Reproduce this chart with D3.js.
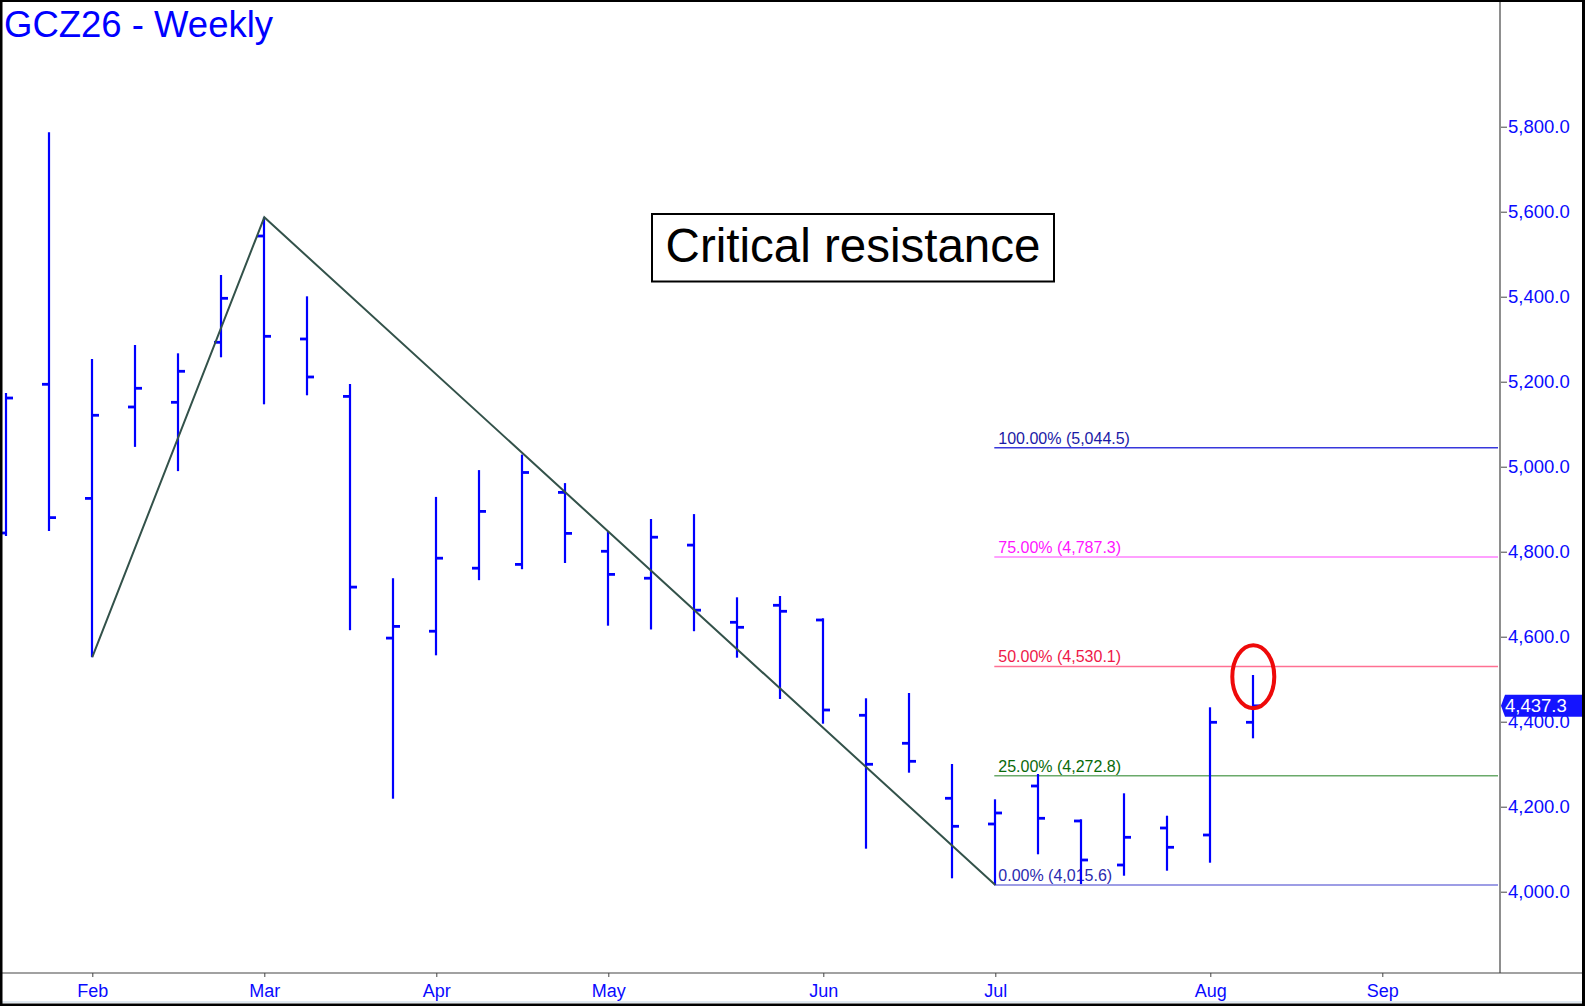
<!DOCTYPE html>
<html>
<head>
<meta charset="utf-8">
<script src="https://cdn.jsdelivr.net/npm/d3@7/dist/d3.min.js"></script>
<style>
  body { margin: 0; background: #fff; }
  svg { display: block; font-family: "Liberation Sans", Arial, sans-serif; }
</style>
</head>
<body>
<div class="chart"></div>
<script>
//weekly bars (week ending friday)
var weekDates = ["2026-01-23","2026-01-30","2026-02-06","2026-02-13","2026-02-20","2026-02-27",
                 "2026-03-06","2026-03-13","2026-03-20","2026-03-27","2026-04-03","2026-04-10",
                 "2026-04-17","2026-04-24","2026-05-01","2026-05-08","2026-05-15","2026-05-22",
                 "2026-05-29","2026-06-05","2026-06-12","2026-06-19","2026-06-26","2026-07-03",
                 "2026-07-10","2026-07-17","2026-07-24","2026-07-31","2026-08-07","2026-08-14"];
var opens  = [4844.0, 5193.9, 4925.4, 5140.5, 5151.5, 5292.7, 5542.8, 5300.5, 5165.4, 4596.7,
              4612.9, 4761.2, 4770.1, 4939.5, 4801.0, 4737.6, 4815.5, 4633.9, 4673.9, 4639.3,
              4415.1, 4349.2, 4219.8, 4159.3, 4248.7, 4166.4, 4062.8, 4149.9, 4133.4, 4398.6];
var highs  = [5173.4, 5786.8, 5253.4, 5286.4, 5266.8, 5451.0, 5586.8, 5400.9, 5194.6, 4737.6,
              4928.9, 4992.0, 5028.5, 4961.4, 4848.0, 4877.0, 4888.5, 4692.7, 4695.8, 4643.3,
              4455.1, 4467.5, 4300.5, 4217.4, 4276.9, 4170.4, 4231.5, 4178.8, 4433.9, 4509.9];
var lows   = [4837.0, 4848.7, 4551.8, 5046.6, 4989.6, 5257.4, 5146.8, 5168.0, 4615.3, 4218.8,
              4556.2, 4733.0, 4758.8, 4773.4, 4625.9, 4617.0, 4612.9, 4550.6, 4453.4, 4395.3,
              4101.2, 4280.0, 4031.5, 4015.6, 4088.0, 4018.0, 4037.6, 4049.4, 4068.2, 4360.9];
var closes = [5161.6, 4880.2, 5121.0, 5184.5, 5224.5, 5396.2, 5306.8, 5211.1, 4716.7, 4624.2,
              4784.7, 4894.8, 4986.4, 4843.1, 4746.6, 4834.1, 4662.4, 4622.1, 4659.8, 4427.5,
              4299.8, 4306.8, 4153.9, 4185.2, 4172.7, 4074.6, 4128.0, 4104.5, 4398.6, 4437.3];

//axis ticks
var priceTicks = [4000, 4200, 4400, 4600, 4800, 5000, 5200, 5400, 5600, 5800];
var monthTickDates = ["2026-02-06","2026-03-06","2026-04-03","2026-05-01",
                      "2026-06-05","2026-07-03","2026-08-07","2026-09-04"];
var monthLabels = ["Feb","Mar","Apr","May","Jun","Jul","Aug","Sep"];

//fibonacci retracement levels
var fibPercents = ["100.00%", "75.00%", "50.00%", "25.00%", "0.00%"];
var fibValues = [5044.5, 4787.3, 4530.1, 4272.8, 4015.6];
var fibStartDate = "2026-07-03";

//swing line (low - high - low)
var swingDates = ["2026-02-06", "2026-03-06", "2026-07-03"];
var swingPrices = [4551.8, 5586.8, 4015.6];

//circled bar
var circleDate = "2026-08-14";
var circlePrice = 4506;

//styles
var fibLineColors = ["#3838dc", "#ff80ff", "#ff7092", "#6aaa6a", "#7c7cdc"];
var fibTextColors = ["#1a1aa6", "#ff14ff", "#ee1848", "#0a6a0a", "#2a2ab0"];

var width = 1585,
    height = 1006,
    plotRight = 1500,
    plotBottom = 973;

var parse = d3.timeParse("%Y-%m-%d");
var fmt = d3.format(",.1f");

var svg = d3.select(".chart").append("svg")
            .attr("width", width)
            .attr("height", height);

svg.append("rect").attr("width", width).attr("height", height).attr("fill", "#fff");

//scales
var x = d3.scaleTime()
          .domain([parse(weekDates[0]), parse("2026-09-04")])
          .range([6.3, 1382.3]);
var y = d3.scaleLinear()
          .domain([4000, 5800])
          .range([891.7, 126.7]);

//fib lines
var fibX0 = x(parse(fibStartDate));
var fib = svg.append("g").selectAll("g")
             .data(fibValues)
             .enter().append("g");
fib.append("line")
   .attr("x1", fibX0 - 1)
   .attr("x2", plotRight - 2)
   .attr("y1", d => y(d))
   .attr("y2", d => y(d))
   .attr("stroke", (d, i) => fibLineColors[i])
   .attr("stroke-width", 1.5);
fib.append("text")
   .attr("x", fibX0 + 3)
   .attr("y", d => y(d) - 4)
   .attr("fill", (d, i) => fibTextColors[i])
   .style("font-size", "16px")
   .text((d, i) => fibPercents[i] + " (" + fmt(d) + ")");

//ohlc bars
var bars = svg.append("g").selectAll("g")
              .data(weekDates)
              .enter().append("g")
              .attr("transform", d => "translate(" + Math.round(x(parse(d))) + ",0)");
bars.append("line")
    .attr("y1", (d, i) => y(highs[i]))
    .attr("y2", (d, i) => y(lows[i]))
    .attr("stroke", "#0000ff")
    .attr("stroke-width", 2.2);
bars.append("line")
    .attr("x1", -7).attr("x2", 0)
    .attr("y1", (d, i) => y(opens[i]))
    .attr("y2", (d, i) => y(opens[i]))
    .attr("stroke", "#0000ff")
    .attr("stroke-width", 2.8);
bars.append("line")
    .attr("x1", 0).attr("x2", 7)
    .attr("y1", (d, i) => y(closes[i]))
    .attr("y2", (d, i) => y(closes[i]))
    .attr("stroke", "#0000ff")
    .attr("stroke-width", 2.8);

//swing line
var swingLine = d3.line()
                  .x((d, i) => x(parse(swingDates[i])))
                  .y(d => y(d));
svg.append("path")
   .attr("d", swingLine(swingPrices))
   .attr("fill", "none")
   .attr("stroke", "#33524a")
   .attr("stroke-width", 2);

//red circle
svg.append("ellipse")
   .attr("cx", x(parse(circleDate)))
   .attr("cy", y(circlePrice))
   .attr("rx", 21)
   .attr("ry", 31.5)
   .attr("fill", "none")
   .attr("stroke", "#ee0a0a")
   .attr("stroke-width", 4);

//annotation box
svg.append("rect")
   .attr("x", 652).attr("y", 214)
   .attr("width", 402).attr("height", 67.5)
   .attr("fill", "#fff")
   .attr("stroke", "#000")
   .attr("stroke-width", 2);
svg.append("text")
   .attr("x", 853).attr("y", 261.5)
   .attr("text-anchor", "middle")
   .style("font-size", "47.5px")
   .attr("fill", "#000")
   .text("Critical resistance");

//title
svg.append("text")
   .attr("x", 4).attr("y", 36.5)
   .style("font-size", "36.5px")
   .attr("fill", "#0000ff")
   .text("GCZ26 - Weekly");

//y axis (right)
var yAxis = d3.axisRight(y)
              .tickValues(priceTicks)
              .tickSize(6)
              .tickPadding(1)
              .tickFormat(fmt);
var yAxisGroup = svg.append("g")
                    .attr("transform", "translate(" + (plotRight + 1) + ",0)")
                    .call(yAxis);
yAxisGroup.select(".domain").remove();
yAxisGroup.selectAll("line").attr("stroke", "#444");
yAxisGroup.selectAll("text")
          .attr("fill", "#0a0aff")
          .style("font-family", "'Liberation Sans', Arial, sans-serif")
          .style("font-size", "18.5px");

svg.append("line")
   .attr("x1", plotRight).attr("x2", plotRight)
   .attr("y1", 0).attr("y2", plotBottom)
   .attr("stroke", "#444").attr("stroke-width", 1.2);

//x axis (bottom)
var xAxis = d3.axisBottom(x)
              .tickValues(monthTickDates.map(parse))
              .tickSize(4)
              .tickPadding(7)
              .tickFormat((d, i) => monthLabels[i]);
var xAxisGroup = svg.append("g")
                    .attr("transform", "translate(0," + plotBottom + ")")
                    .call(xAxis);
xAxisGroup.select(".domain").remove();
xAxisGroup.selectAll("line").attr("stroke", "#444");
xAxisGroup.selectAll("text")
          .attr("fill", "#0a0aff")
          .style("font-family", "'Liberation Sans', Arial, sans-serif")
          .style("font-size", "18px");

svg.append("line")
   .attr("x1", 0).attr("x2", width)
   .attr("y1", plotBottom).attr("y2", plotBottom)
   .attr("stroke", "#444").attr("stroke-width", 1.2);

//last price tag (covers the axis label under it, as in the source chart)
var lastY = y(closes[closes.length - 1]);
svg.append("path")
   .attr("d", "M" + (plotRight + 1) + "," + lastY +
              "L" + (plotRight + 5) + "," + (lastY - 11) +
              "L" + 1582 + "," + (lastY - 11) +
              "L" + 1582 + "," + (lastY + 11) +
              "L" + (plotRight + 5) + "," + (lastY + 11) + "Z")
   .attr("fill", "#1414ff");
svg.append("text")
   .attr("x", plotRight + 5)
   .attr("y", lastY + 6.5)
   .attr("fill", "#fff")
   .style("font-size", "18.5px")
   .text(fmt(closes[closes.length - 1]));

//frame
svg.append("rect").attr("x", 0).attr("y", 1001).attr("width", width).attr("height", 2).attr("fill", "#dfe8f0");
svg.append("rect").attr("x", 0).attr("y", 0).attr("width", width).attr("height", 2).attr("fill", "#000");
svg.append("rect").attr("x", 0).attr("y", 0).attr("width", 2.5).attr("height", height).attr("fill", "#000");
svg.append("rect").attr("x", 1582).attr("y", 0).attr("width", 3).attr("height", height).attr("fill", "#000");
svg.append("rect").attr("x", 0).attr("y", 1003.5).attr("width", width).attr("height", 2.5).attr("fill", "#000");
</script>
</body>
</html>
